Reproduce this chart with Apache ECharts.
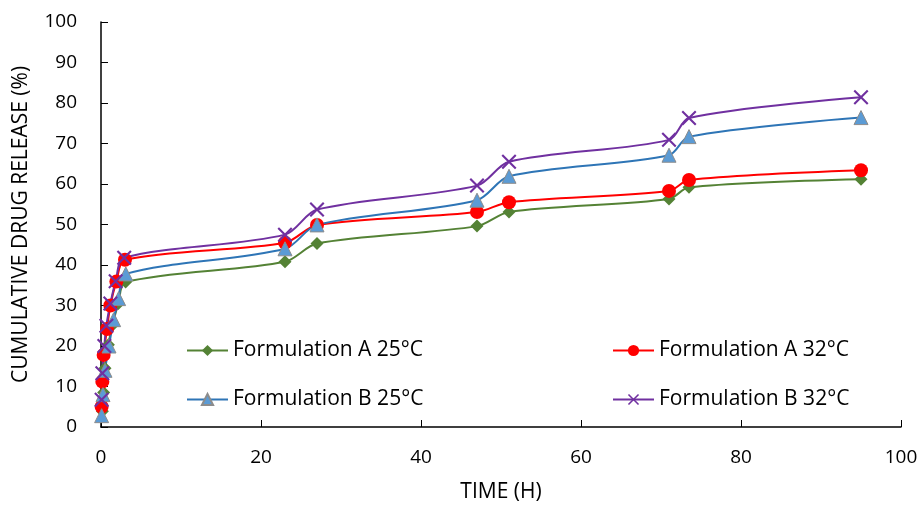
<!DOCTYPE html>
<html>
<head>
<meta charset="utf-8">
<script src="https://cdn.jsdelivr.net/npm/echarts@6/dist/echarts.min.js"></script>
<style>
  html, body { margin: 0; padding: 0; background: #fff; }
  #chart { width: 921px; height: 508px; }
</style>
</head>
<body>
<div id="chart"></div>
<script>
// release data (time in hours, cumulative %)
const seriesNames = ['Formulation A 25°C', 'Formulation A 32°C', 'Formulation B 25°C', 'Formulation B 32°C'];

const timeA25 = [0.17, 0.33, 0.5, 0.92, 1.42, 2.17, 3.08, 23, 27, 47, 51, 71, 73.5, 95];
const relA25 = [3.9, 8.5, 14.5, 20.3, 25.1, 30.5, 35.8, 40.8, 45.3, 49.6, 53.1, 56.3, 59.2, 61.2];

const timeA32 = [0.08, 0.17, 0.33, 0.75, 1.17, 1.92, 3, 23, 27, 47, 51, 71, 73.5, 95];
const relA32 = [5.0, 11.2, 17.8, 24.2, 30.0, 35.9, 41.3, 45.5, 49.9, 53.1, 55.5, 58.3, 61.0, 63.4];

const timeB25 = [0.08, 0.25, 0.5, 1.0, 1.58, 2.2, 3.1, 23, 27, 47, 51, 71, 73.5, 95];
const relB25 = [2.8, 8.0, 14.0, 20.0, 26.5, 31.7, 37.8, 44.0, 49.9, 56.0, 61.9, 67.1, 71.7, 76.4];

const timeB32 = [0.08, 0.17, 0.42, 0.67, 1.17, 1.83, 2.9, 23, 27, 47, 51, 71, 73.5, 95];
const relB32 = [6.7, 13.3, 20.0, 25.0, 30.5, 36.0, 41.8, 47.5, 53.7, 59.6, 65.5, 70.9, 76.3, 81.4];

const pair = (t, v) => t.map((x, i) => [x, v[i]]);

const FONT = 'Open Sans';
const crossPath = 'path://M0,1 L1,0 L5,4 L9,0 L10,1 L6,5 L10,9 L9,10 L5,6 L1,10 L0,9 L4,5 Z';

const chart = echarts.init(document.getElementById('chart'));

const legendBase = {
  orient: 'horizontal',
  itemWidth: 41,
  itemHeight: 14,
  itemGap: 4,
  textStyle: { fontFamily: FONT, fontSize: 21, color: '#000' }
};

const option = {
  animation: false,
  backgroundColor: '#fff',
  grid: { left: 101, right: 20, top: 22, bottom: 79, containLabel: false },
  legend: [
    Object.assign({ left: 181, top: 335, data: [seriesNames[0]] }, legendBase),
    Object.assign({ left: 607, top: 335, data: [seriesNames[1]] }, legendBase),
    Object.assign({ left: 181, top: 384, data: [seriesNames[2]] }, legendBase),
    Object.assign({ left: 607, top: 384, data: [seriesNames[3]] }, legendBase)
  ],
  xAxis: {
    type: 'value',
    min: 0, max: 100, interval: 20,
    name: 'TIME (H)',
    nameLocation: 'middle',
    nameGap: 55,
    nameTextStyle: { fontFamily: FONT, fontSize: 21, color: '#000' },
    axisLine: { lineStyle: { color: '#000', width: 1.5 } },
    axisTick: { show: true, inside: true, length: 7, lineStyle: { color: '#000' } },
    axisLabel: { fontFamily: FONT, fontSize: 19, color: '#000', margin: 21 },
    splitLine: { show: false }
  },
  yAxis: {
    type: 'value',
    min: 0, max: 100, interval: 10,
    name: 'CUMULATIVE DRUG RELEASE (%)',
    nameLocation: 'middle',
    nameGap: 69,
    nameTextStyle: { fontFamily: FONT, fontSize: 21, color: '#000' },
    axisLine: { show: true, lineStyle: { color: '#000', width: 1.5 } },
    axisTick: { show: true, inside: true, length: 7, lineStyle: { color: '#000' } },
    axisLabel: { fontFamily: FONT, fontSize: 19, color: '#000', margin: 24 },
    splitLine: { show: false }
  },
  series: [
    {
      name: seriesNames[0], type: 'line', smooth: 0.3,
      data: pair(timeA25, relA25),
      symbol: 'diamond', symbolSize: 13,
      lineStyle: { color: '#548235', width: 2 },
      itemStyle: { color: '#548235' }
    },
    {
      name: seriesNames[1], type: 'line', smooth: 0.3,
      data: pair(timeA32, relA32),
      symbol: 'circle', symbolSize: 14,
      lineStyle: { color: '#ff0000', width: 2 },
      itemStyle: { color: '#ff0000' }
    },
    {
      name: seriesNames[2], type: 'line', smooth: 0.3,
      data: pair(timeB25, relB25),
      symbol: 'triangle', symbolSize: 14,
      lineStyle: { color: '#2e75b6', width: 2 },
      itemStyle: { color: '#5b9bd5', borderColor: '#8c8c8c', borderWidth: 1 }
    },
    {
      name: seriesNames[3], type: 'line', smooth: 0.3,
      data: pair(timeB32, relB32),
      symbol: crossPath, symbolSize: 15,
      lineStyle: { color: '#7030a0', width: 2 },
      itemStyle: { color: '#7030a0' }
    }
  ]
};

chart.setOption(option);
</script>
</body>
</html>
